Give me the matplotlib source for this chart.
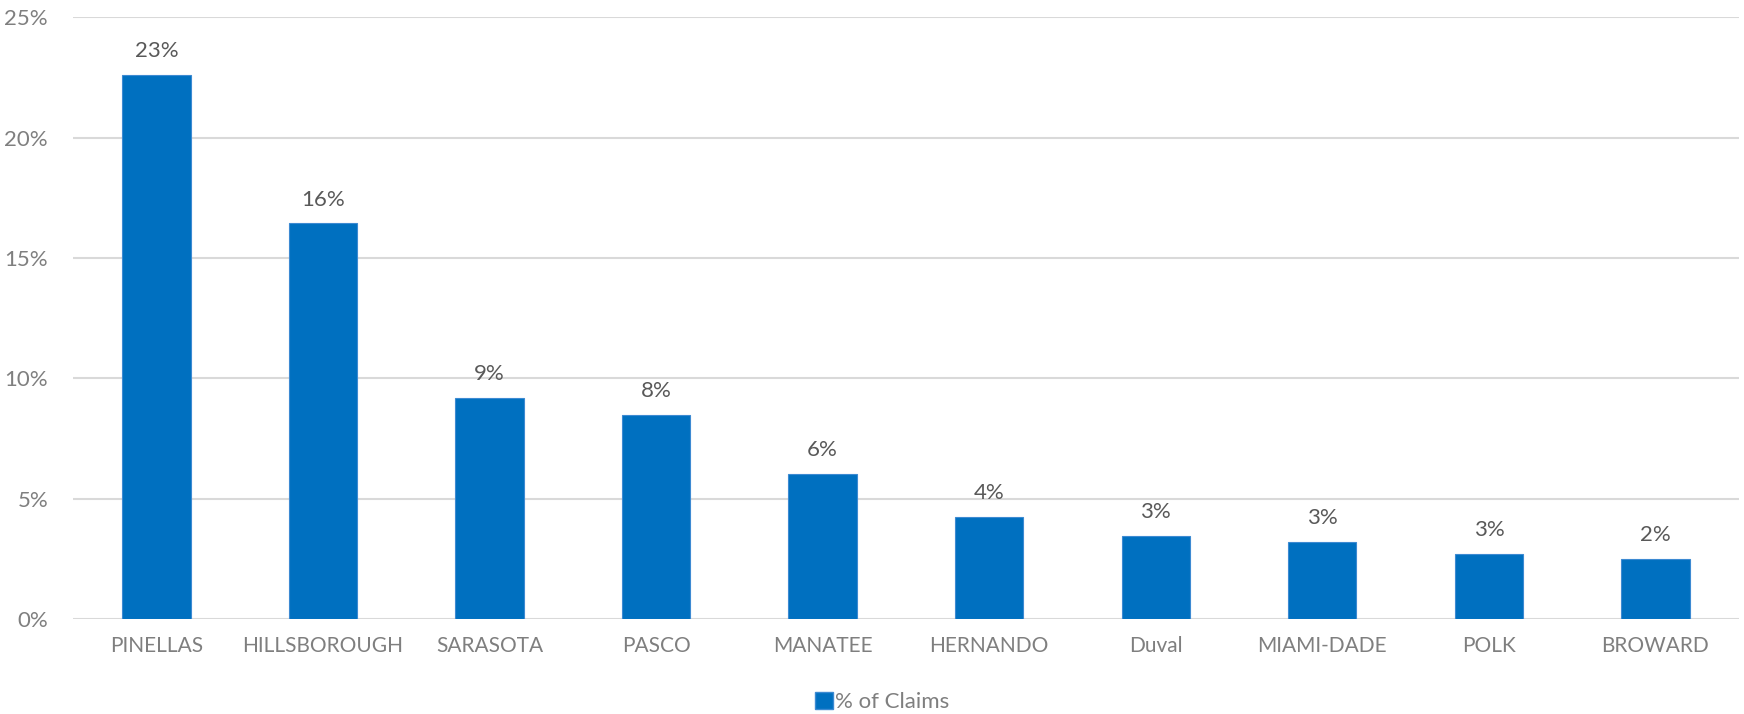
import matplotlib.pyplot as plt
from matplotlib.patches import Patch

counties = ['PINELLAS', 'HILLSBOROUGH', 'SARASOTA', 'PASCO', 'MANATEE',
            'HERNANDO', 'Duval', 'MIAMI-DADE', 'POLK', 'BROWARD']
claims_pct = [22.63, 16.44, 9.17, 8.49, 6.02, 4.25, 3.46, 3.21, 2.69, 2.49]
yticks = [0, 5, 10, 15, 20, 25]

plt.rcParams['font.family'] = ['Lato', 'DejaVu Sans']

fig = plt.figure(figsize=(17.44, 7.14), dpi=100)
ax = fig.add_axes([0.0419, 0.1331, 0.9551, 0.8424])

x = list(range(len(counties)))
ax.bar(x, claims_pct, width=0.41, color='#0070c0', edgecolor='#3d8ad2',
       linewidth=0.8, zorder=3)

for xi, v in zip(x, claims_pct):
    ax.annotate(f'{round(v):d}%', (xi, v), xytext=(0, 10), textcoords='offset points',
                ha='center', va='bottom', fontsize=16, color='#595959')

ax.set_xlim(-0.5, len(counties) - 0.5)
ax.set_ylim(0, 25)
ax.set_yticks(yticks)
ax.set_yticklabels([f'{t}%' for t in yticks])
ax.set_xticks(x)
ax.set_xticklabels(counties)
ax.tick_params(axis='both', length=0, labelcolor='#7f7f7f')
ax.tick_params(axis='x', pad=12, labelsize=15)
ax.tick_params(axis='y', pad=18, labelsize=16)
ax.grid(axis='y', color='#d9d9d9', linewidth=1.5, zorder=0)
for s in ax.spines.values():
    s.set_visible(False)

fig.legend([Patch(facecolor='#0070c0', edgecolor='#3d8ad2')], ['% of Claims'],
           loc='center', bbox_to_anchor=(0.506, 0.017), frameon=False,
           fontsize=16, labelcolor='#7f7f7f', handlelength=0.8, handleheight=0.8,
           handletextpad=0.1, borderpad=0)

plt.savefig('out.png', dpi=100, facecolor='w')
